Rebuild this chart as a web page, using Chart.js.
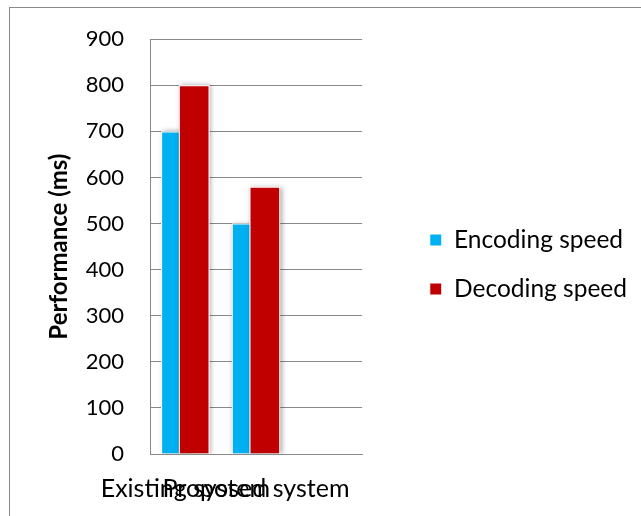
<!DOCTYPE html>
<html>
<head>
<meta charset="utf-8">
<title>Performance (ms)</title>
<script src="https://cdn.jsdelivr.net/npm/chart.js@4/dist/chart.umd.min.js"></script>
<style>
  html, body { margin: 0; padding: 0; background: #ffffff; }
  #wrap { position: relative; width: 641px; height: 516px; overflow: hidden; }
  #frame { position: absolute; left: 9px; top: 7px; width: 700px; height: 600px;
           border: 1px solid #8a8a8a; box-sizing: border-box; }
  #c { position: absolute; left: 0; top: 0; }
</style>
</head>
<body>
<div id="wrap">
  <div id="frame"></div>
  <canvas id="c" width="641" height="516"></canvas>
</div>
<script>
// Categories (the third slot is left empty on the axis)
const categories = ['Existing system', 'Proposed system', ''];
// Series values, in ms
const encodingSpeed = [700, 500];
const decodingSpeed = [800, 580];
const seriesNames = ['Encoding speed', 'Decoding speed'];
// Value axis ticks
const yMin = 0;
const yMax = 900;
const yStep = 100;

const FONT = 'Lato, "Noto Sans", sans-serif';
const GRID = '#898989';
const PAD_RIGHT = 4;      // page margin right of the legend
const PLOT_RIGHT = 362;   // right edge of the plotting area

// Soft drop shadow behind every bar of a dataset
function paintShadows(chart, meta) {
  const { ctx, chartArea: a } = chart;
  ctx.save();
  ctx.beginPath();
  ctx.rect(a.left, a.top, a.right - a.left, a.bottom - a.top);
  ctx.clip();
  ctx.shadowColor = 'rgba(0,0,0,0.35)';
  ctx.shadowBlur = 5;
  ctx.shadowOffsetX = 1.5;
  ctx.shadowOffsetY = 0;
  ctx.fillStyle = '#ffffff';
  meta.data.forEach(bar => {
    const { x, y, base, width } = bar.getProps(['x', 'y', 'base', 'width'], true);
    if (![x, y, base, width].every(Number.isFinite)) return;
    ctx.fillRect(x - width / 2, Math.min(y, base), width, Math.abs(base - y));
  });
  ctx.restore();
}

// Bars of a category overlap; the second series is painted on top of the first
const overlapBars = {
  id: 'overlapBars',
  beforeDatasetDraw(chart, args) {
    if (args.index === 1) return false;
    paintShadows(chart, args.meta);
  },
  afterDatasetsDraw(chart) {
    if (!chart.isDatasetVisible(1)) return;
    const meta = chart.getDatasetMeta(1);
    paintShadows(chart, meta);
    meta.controller.draw();
  }
};

function build() {
  new Chart(document.getElementById('c'), {
    type: 'bar',
    data: {
      labels: categories,
      datasets: [
        {
          label: seriesNames[0],
          data: encodingSpeed,
          backgroundColor: '#00B0F0',
          borderColor: '#ffffff',
          borderWidth: 1,
          xAxisID: 'x',
          yAxisID: 'y',
          categoryPercentage: 0.501,
          barPercentage: 1.734
        },
        {
          label: seriesNames[1],
          data: decodingSpeed,
          backgroundColor: '#C00000',
          borderColor: '#ffffff',
          borderWidth: 1,
          xAxisID: 'x',
          yAxisID: 'y',
          categoryPercentage: 0.501,
          barPercentage: 1.734
        }
      ]
    },
    options: {
      responsive: false,
      devicePixelRatio: 1,
      animation: false,
      events: [],
      layout: { padding: { left: 10, top: 24, right: PAD_RIGHT, bottom: 11 } },
      scales: {
        x: {
          offset: true,
          grid: { display: false, drawTicks: false },
          border: { display: true, color: GRID, width: 1 },
          ticks: {
            autoSkip: false, maxRotation: 0, minRotation: 0, padding: 20,
            color: '#000000', font: { family: FONT, size: 25 }
          },
          afterFit: s => { s.height = 51; }
        },
        y: {
          min: yMin,
          max: yMax,
          grid: { color: GRID, lineWidth: 1, drawTicks: false },
          border: { display: true, color: GRID, width: 1 },
          ticks: {
            stepSize: yStep, padding: 26,
            color: '#000000', font: { family: FONT, size: 22 }
          },
          title: {
            display: true,
            text: 'Performance (ms)',
            color: '#000000',
            font: { family: FONT, size: 24, weight: 'bold' },
            padding: { top: 35, bottom: 0 }
          },
          afterFit: s => { s.width = 140; }
        },
        // empty strip between the plot and the legend
        gap: {
          type: 'linear',
          position: 'right',
          display: true,
          grid: { display: false, drawTicks: false },
          border: { display: false },
          ticks: { display: false },
          afterFit: s => {
            const legendWidth = s.chart.legend ? s.chart.legend.width : 0;
            s.width = Math.max(0, s.chart.width - PAD_RIGHT - legendWidth - PLOT_RIGHT);
          }
        }
      },
      plugins: {
        // blank band above the plot
        title: {
          display: true,
          text: '',
          font: { family: FONT, size: 10 },
          padding: { top: 0, bottom: 1 }
        },
        legend: {
          position: 'right',
          align: 'center',
          maxWidth: 270,
          labels: {
            boxWidth: 12,
            boxHeight: 12,
            padding: 24.5,
            color: '#000000',
            font: { family: FONT, size: 24.5 }
          }
        },
        tooltip: { enabled: false }
      }
    },
    plugins: [overlapBars]
  });
}

Promise.all([
  document.fonts.load('24px Lato'),
  document.fonts.load('bold 24px Lato')
]).then(build, build);
</script>
</body>
</html>
